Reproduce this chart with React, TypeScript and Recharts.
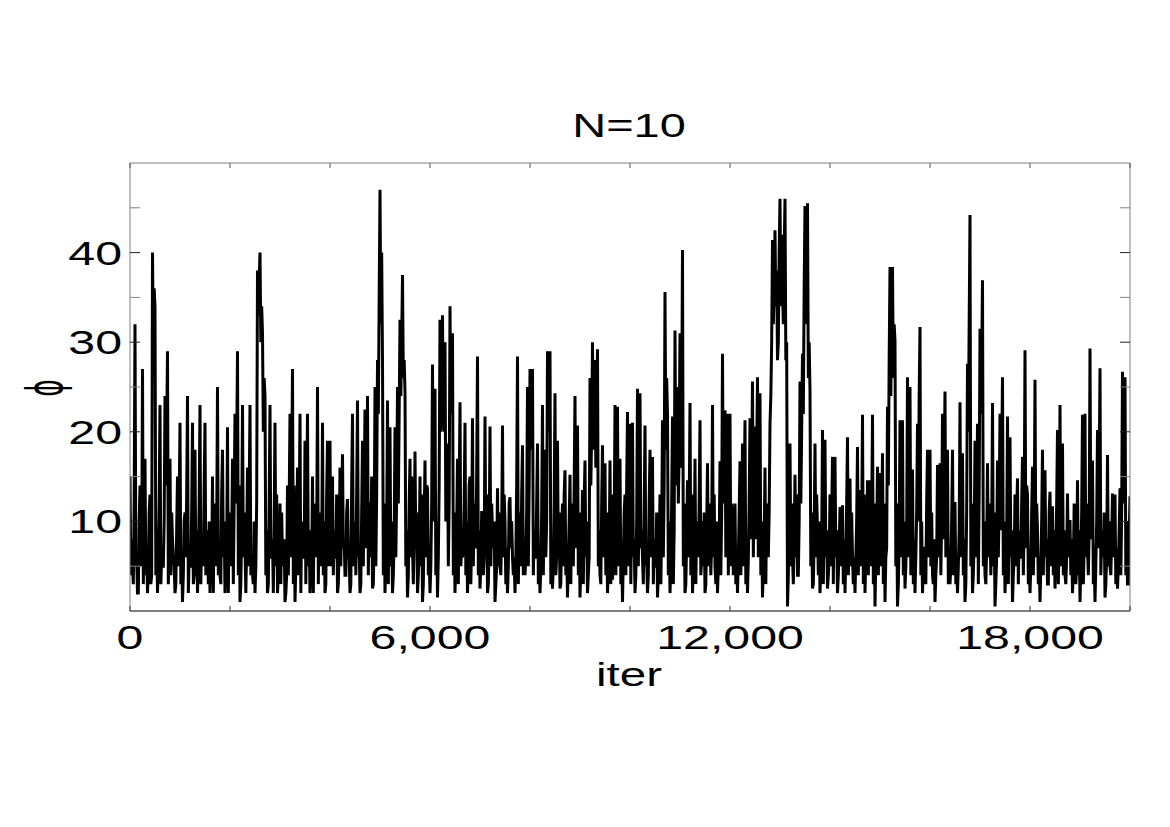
import { Line, LineChart, XAxis, YAxis } from 'recharts';

// phi in five 4000-iteration chunks: peak readings every 50
// iterations, then for each gap the dip and the band level that follow it
const ITER_STEP = 50 / 3;
const phiA = [15, 5, 32, 2, 14, 27, 17, 2, 13, 40, 34, 2, 23, 5, 24, 29, 17, 8, 2, 15, 21, 1, 11, 24, 5, 21, 18, 2, 23, 6, 21, 9, 2, 15, 9, 25, 4, 18, 2, 20.5, 9, 17, 22, 29, 1, 23, 7, 16, 23, 4, 2, 38, 40, 31, 24, 2, 23, 8, 21, 2, 12, 6, 1, 14, 22, 27, 1, 16, 22, 6, 19, 22, 2, 15, 8, 25, 6, 21, 2, 19];
const dipA = [4, 3, 5, 2, 6, 3, 4, 5, 3, 30, 4, 6, 3, 5, 14, 3, 4, 6, 3, 5, 3, 4, 6, 2, 5, 3, 4, 6, 3, 5, 4, 3, 6, 2, 5, 4, 3, 6, 4, 2, 5, 3, 12, 4, 3, 6, 2, 5, 4, 3, 5, 33, 30, 20, 4, 3, 6, 2, 5, 4, 3, 5, 2, 4, 6, 3, 5, 4, 2, 6, 3, 5, 4, 2, 6, 3, 5, 4, 3, 5];
const bandA = [8, 12, 6, 10, 5, 13, 7, 11, 4, 36, 9, 12, 6, 10, 20, 8, 11, 5, 9, 12, 7, 10, 13, 6, 11, 4, 9, 12, 8, 14, 6, 10, 5, 12, 9, 7, 13, 10, 6, 11, 8, 12, 18, 14, 9, 11, 7, 13, 6, 10, 12, 37, 34, 26, 9, 12, 6, 10, 13, 5, 11, 8, 4, 12, 15, 14, 7, 11, 10, 6, 13, 9, 5, 12, 8, 11, 6, 10, 13, 7];
const phiB = [19, 15, 6, 2, 16, 17.5, 4, 12.5, 2, 22, 10, 23.5, 2, 19, 22.5, 24, 12, 2.5, 25, 28, 47, 28, 2, 23.5, 20.5, 2, 20.5, 25, 32.5, 37.5, 24.5, 1.5, 17, 7, 17.8, 2, 15, 1, 16.8, 13.7, 2, 27.5, 24.8, 1.5, 32.5, 33, 30, 18.7, 34, 31, 2, 17, 23.3, 6, 21, 2, 15, 21.5, 8, 28.4, 2.5, 11, 21.7, 2, 20.6, 9, 1, 13.7, 5, 20.7, 10, 2, 12.7, 6, 2, 28.4, 11, 18.5, 4, 25];
const dipB = [5, 4, 6, 3, 5, 7, 4, 6, 3, 5, 4, 6, 3, 5, 7, 4, 6, 3, 5, 22, 32, 4, 6, 3, 5, 4, 6, 12, 24, 26, 5, 4, 6, 3, 7, 4, 5, 3, 6, 4, 5, 10, 4, 6, 20, 22, 10, 5, 22, 4, 6, 3, 5, 7, 4, 6, 3, 5, 7, 4, 5, 4, 6, 3, 5, 7, 3, 5, 4, 6, 3, 5, 7, 4, 6, 3, 5, 4, 6, 5];
const bandB = [10, 9, 13, 7, 12, 8, 11, 6, 14, 9, 13, 7, 11, 14, 9, 12, 15, 8, 13, 35, 40, 12, 9, 14, 10, 8, 13, 22, 30, 28, 9, 12, 15, 8, 11, 7, 13, 10, 14, 6, 12, 18, 10, 14, 26, 20, 14, 12, 28, 11, 9, 13, 7, 12, 10, 14, 8, 12, 15, 9, 11, 6, 13, 8, 12, 10, 5, 11, 9, 13, 7, 12, 10, 6, 14, 9, 13, 8, 11, 14];
const phiC = [27, 27, 6, 18.7, 2, 23, 18, 29, 29, 2.5, 24.3, 19, 2.5, 12, 15.7, 1.5, 15.2, 8, 24, 20.7, 1.5, 13.5, 16.8, 2, 26, 30, 28, 29.2, 4, 18.5, 16.5, 2, 16.8, 3.5, 23, 22.8, 17, 1, 13, 22.2, 20.9, 21, 2, 24.8, 24.3, 6, 20.7, 2, 18, 17.2, 5, 1.5, 13, 21.3, 35.6, 22, 2, 21.7, 31.3, 25, 31, 40.3, 2, 14.6, 23.2, 2, 17, 9, 21.3, 10, 2, 16.5, 9, 23, 5, 2, 16.7, 28.7, 22.4, 22];
const dipC = [18, 4, 6, 3, 5, 4, 6, 20, 3, 5, 4, 6, 3, 5, 4, 6, 3, 5, 7, 4, 5, 3, 6, 4, 14, 18, 16, 5, 3, 6, 4, 5, 3, 6, 4, 5, 3, 6, 4, 5, 3, 6, 4, 5, 7, 3, 5, 4, 6, 3, 5, 4, 3, 6, 18, 4, 5, 3, 14, 12, 16, 5, 3, 6, 4, 5, 3, 6, 4, 5, 3, 5, 4, 6, 3, 5, 4, 12, 6, 4];
const bandC = [22, 9, 12, 7, 11, 13, 10, 24, 8, 12, 6, 11, 9, 13, 7, 10, 12, 14, 9, 11, 7, 12, 10, 6, 20, 24, 22, 9, 12, 8, 11, 6, 13, 9, 12, 10, 7, 11, 14, 9, 12, 8, 10, 13, 9, 11, 6, 12, 10, 8, 11, 7, 9, 14, 26, 10, 12, 9, 20, 18, 22, 12, 8, 11, 13, 7, 10, 12, 6, 11, 9, 12, 8, 13, 10, 7, 11, 18, 12, 10];
const phiD = [22, 9.4, 12, 2, 16.7, 18.7, 21.3, 2, 21.5, 25.6, 20.6, 26.1, 24.3, 1.5, 16, 8.3, 20.9, 41.4, 42.5, 28, 46, 36, 46, 0.5, 18.7, 6, 15.2, 4, 25.6, 28.7, 45.2, 45.5, 24.6, 2.5, 18.7, 9, 2, 20.2, 19.1, 2.5, 13, 17.2, 17.2, 2, 11.6, 11.8, 2, 19.4, 14.8, 6, 2, 18.3, 13.5, 21.9, 2, 14.6, 14.6, 21.9, 0.5, 16.1, 15.4, 17.6, 1, 22.8, 38.4, 38.4, 30.2, 0.5, 21.3, 21.3, 2.5, 26.1, 25, 15.8, 2, 20.9, 31.7, 2, 7, 18];
const dipD = [5, 4, 3, 6, 4, 5, 3, 6, 8, 6, 8, 6, 4, 5, 3, 6, 24, 32, 34, 30, 34, 32, 28, 4, 5, 3, 6, 4, 12, 22, 32, 26, 5, 3, 6, 4, 5, 3, 6, 4, 5, 3, 6, 4, 5, 3, 6, 4, 5, 3, 6, 4, 5, 3, 6, 4, 5, 3, 6, 4, 5, 3, 6, 14, 24, 26, 5, 3, 6, 4, 5, 6, 4, 3, 6, 10, 4, 5, 3, 6];
const bandD = [12, 10, 7, 11, 9, 13, 8, 12, 16, 14, 18, 15, 10, 8, 12, 11, 30, 36, 38, 40, 42, 40, 30, 9, 12, 8, 13, 10, 20, 36, 38, 30, 11, 8, 13, 10, 7, 12, 9, 6, 11, 13, 9, 7, 10, 8, 12, 9, 11, 6, 10, 12, 9, 13, 7, 11, 10, 12, 8, 11, 9, 12, 7, 28, 34, 32, 12, 8, 13, 10, 9, 16, 12, 8, 11, 24, 10, 7, 12, 9];
const phiE = [18, 4, 1, 16.3, 16.5, 22, 24.5, 18, 3, 18, 12, 2, 23.3, 17.6, 1, 27.6, 44.2, 2, 19, 20.9, 31.5, 36.9, 4, 16.5, 9, 23.2, 0.5, 16.8, 22, 26.1, 2, 21.7, 19.4, 1, 13, 14.8, 6, 17.2, 29.1, 13, 2, 16.1, 25.8, 9, 1, 18, 15.7, 3, 13.3, 11.7, 2.5, 20.2, 23, 18.7, 4, 13.1, 10, 2, 10.1, 14.6, 1, 21.9, 22, 7, 29.3, 16.8, 1, 20.2, 27.1, 9, 1.5, 17.4, 5, 13.1, 13, 2.5, 13.7, 26.7, 26.1, 3, 12.8];
const dipE = [5, 3, 4, 6, 4, 8, 6, 3, 5, 4, 3, 5, 6, 4, 3, 20, 5, 4, 6, 3, 22, 5, 3, 6, 4, 5, 3, 6, 9, 4, 5, 3, 6, 4, 5, 3, 6, 4, 7, 3, 5, 4, 6, 3, 5, 4, 6, 3, 5, 4, 6, 3, 5, 4, 3, 6, 4, 5, 3, 4, 5, 3, 6, 4, 8, 3, 5, 7, 4, 6, 3, 5, 4, 6, 3, 5, 4, 12, 4, 3];
const bandE = [11, 8, 6, 12, 10, 16, 13, 7, 10, 12, 6, 9, 13, 8, 11, 32, 12, 8, 11, 13, 28, 10, 7, 12, 9, 11, 6, 12, 17, 10, 8, 12, 9, 6, 11, 9, 12, 10, 14, 7, 11, 9, 12, 6, 10, 13, 8, 11, 7, 9, 12, 8, 11, 9, 6, 10, 8, 12, 5, 9, 11, 7, 12, 9, 13, 6, 10, 15, 8, 11, 6, 10, 8, 12, 7, 9, 11, 18, 10, 8];

const xTicks = [0, 2000, 4000, 6000, 8000, 10000, 12000, 14000, 16000, 18000, 20000];
const xLabelTicks = [0, 6000, 12000, 18000];
const yTicks = [5, 10, 15, 20, 25, 30, 35, 40, 45];
const yLabelTicks = [10, 20, 30, 40];

const interleave = (peaks: number[], dips: number[], band: number[]) =>
  peaks.flatMap((v, j) => (j < band.length ? [v, dips[j], band[j]] : [v]));

const phi = [
  ...interleave(phiA, dipA, bandA),
  ...interleave(phiB, dipB, bandB),
  ...interleave(phiC, dipC, bandC),
  ...interleave(phiD, dipD, bandD),
  ...interleave(phiE, dipE, bandE),
];
const data = phi.map((v, i) => ({ iter: i * ITER_STEP, phi: v }));

const FONT = '"Liberation Sans", Arial, sans-serif';
const FRAME = '#808080';

const fmt = (v: number) => String(v).replace(/\B(?=(\d{3})+(?!\d))/g, ',');

function BottomTick({ x, y, payload }: any) {
  const v = payload.value;
  return (
    <g>
      <line x1={x} y1={y} x2={x} y2={y - 5} stroke="#333" />
      {xLabelTicks.includes(v) && (
        <text transform={`translate(${x},${y + 38}) scale(1.42,1)`} textAnchor="middle" fontSize={34} fontFamily={FONT} fill="#000">
          {fmt(v)}
        </text>
      )}
    </g>
  );
}

function TopTick({ x, y }: any) {
  return <line x1={x} y1={y} x2={x} y2={y + 5} stroke="#555" />;
}

function LeftTick({ x, y, payload }: any) {
  const v = payload.value;
  const labeled = yLabelTicks.includes(v);
  return (
    <g>
      <line x1={x} y1={y} x2={x + 10} y2={y} stroke={labeled ? '#222' : FRAME} />
      {labeled && (
        <text transform={`translate(${x - 8},${y + 12}) scale(1.42,1)`} textAnchor="end" fontSize={34} fontFamily={FONT} fill="#000">
          {v}
        </text>
      )}
    </g>
  );
}

function RightTick({ x, y, payload }: any) {
  const labeled = yLabelTicks.includes(payload.value);
  return <line x1={x} y1={y} x2={x - 10} y2={y} stroke={labeled ? '#222' : FRAME} />;
}

export default function App() {
  return (
    <div style={{ position: 'absolute', left: 0, top: 0, width: 1170, height: 827, background: '#fff' }}>
      <LineChart width={1170} height={827} data={data} margin={{ top: 153, right: 30, bottom: 156, left: 50 }}>
        <XAxis
          dataKey="iter"
          type="number"
          domain={[0, 20000]}
          allowDataOverflow
          ticks={xTicks}
          interval={0}
          height={60}
          tickSize={0}
          tickMargin={0}
          tickLine={false}
          axisLine={{ stroke: '#000' }}
          tick={(p: any) => <BottomTick {...p} />}
        />
        <XAxis
          xAxisId="top"
          orientation="top"
          dataKey="iter"
          type="number"
          domain={[0, 20000]}
          allowDataOverflow
          ticks={xTicks}
          interval={0}
          height={10}
          tickSize={0}
          tickMargin={0}
          tickLine={false}
          axisLine={{ stroke: FRAME }}
          tick={(p: any) => <TopTick {...p} />}
        />
        <YAxis
          type="number"
          domain={[0, 50]}
          allowDataOverflow
          ticks={yTicks}
          interval={0}
          width={80}
          tickSize={0}
          tickMargin={0}
          tickLine={false}
          axisLine={{ stroke: FRAME }}
          tick={(p: any) => <LeftTick {...p} />}
        />
        <YAxis
          yAxisId="right"
          orientation="right"
          type="number"
          domain={[0, 50]}
          allowDataOverflow
          ticks={yTicks}
          interval={0}
          width={10}
          tickSize={0}
          tickMargin={0}
          tickLine={false}
          axisLine={{ stroke: FRAME }}
          tick={(p: any) => <RightTick {...p} />}
        />
        <Line type="linear" dataKey="phi" stroke="#000" strokeWidth={3} dot={false} isAnimationActive={false} />
      </LineChart>
      <svg width={1170} height={827} style={{ position: 'absolute', left: 0, top: 0, pointerEvents: 'none' }}>
        <text transform="translate(629,137) scale(1.38,1)" textAnchor="middle" fontSize={34} fontFamily={FONT} fill="#000">
          N=10
        </text>
        <text transform="translate(629,686) scale(1.4,1)" textAnchor="middle" fontSize={34} fontFamily={FONT} fill="#000">
          iter
        </text>
        <text transform="translate(62,388) rotate(-90) scale(0.6,1.15)" textAnchor="middle" fontSize={44} fontFamily='"DejaVu Sans", sans-serif' fill="#000">
          ϕ
        </text>
      </svg>
    </div>
  );
}
